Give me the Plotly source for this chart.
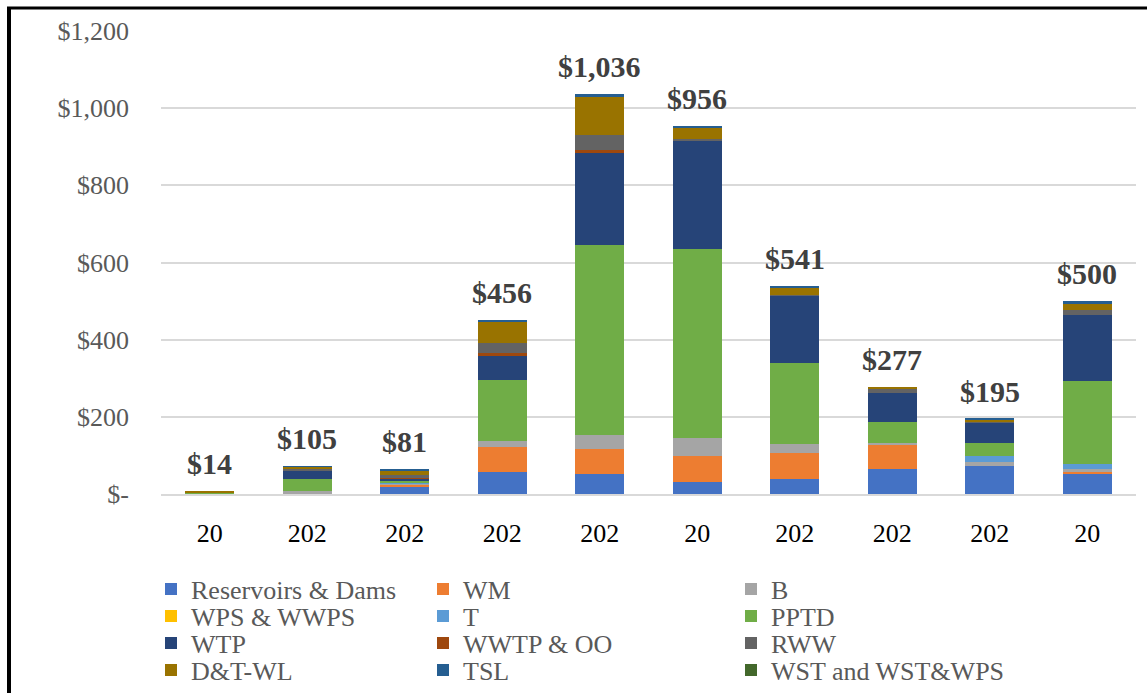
import plotly.graph_objects as go

# ---------------- data ----------------
categories = ["c1", "c2", "c3", "c4", "c5", "c6", "c7", "c8", "c9", "c10"]
tick_labels = ["20", "202", "202", "202", "202", "20", "202", "202", "202", "20"]
total_labels = ["$14", "$105", "$81", "$456", "$1,036", "$956", "$541", "$277", "$195", "$500"]

series_names = ["Reservoirs & Dams", "WM", "B", "WPS & WWPS", "T", "PPTD",
                "WTP", "WWTP & OO", "RWW", "D&T-WL", "TSL", "WST and WST&WPS"]

reservoirs = [1, 2, 18, 56, 51, 32, 40, 66, 73, 53]
wm = [0, 0, 6, 66, 66, 66, 66, 63, 0, 3]
b = [0, 5, 3, 15, 37, 48, 23, 3, 11, 9]
wps = [0, 0, 0, 0, 0, 0, 0, 0, 0, 0]
t = [0, 0, 1, 0, 0, 0, 0, 0, 14, 14]
pptd = [3, 33, 6, 158, 492, 490, 210, 54, 35, 214]
wtp = [1, 22, 6, 62, 239, 279, 175, 75, 52, 171]
wwtp = [0, 0, 1, 9, 7, 2, 0, 0, 0, 0]
rww = [0, 2, 8, 26, 38, 3, 1, 13, 3, 14]
dtwl = [3, 6, 11, 54, 98, 30, 21, 4, 4, 15]
tsl = [0, 2, 5, 6, 9, 3, 3, 0, 3, 6]
wst = [0, 0, 0, 0, 0, 0, 0, 0, 0, 0]

series_values = [reservoirs, wm, b, wps, t, pptd, wtp, wwtp, rww, dtwl, tsl, wst]

y_tick_vals = [0, 200, 400, 600, 800, 1000, 1200]
y_tick_text = ["$-", "$200", "$400", "$600", "$800", "$1,000", "$1,200"]

# ---------------- styling ----------------
colors = ["#4472C4", "#ED7D31", "#A5A5A5", "#FFC000", "#5B9BD5", "#70AD47",
          "#264478", "#9E480E", "#636363", "#997300", "#255E91", "#43682B"]

FONT = "Liberation Serif"
W, H = 1147, 693
ML, MR, MT, MB = 161, 11, 31, 199
PW, PH = W - ML - MR, H - MT - MB


def px_to_paper_x(px):
    return (px - ML) / PW


def px_to_paper_y(py):
    return (H - MB - py) / PH


# legend grid (3 columns x 4 rows, row-major), one legend per entry
col_left_px = [151, 423, 731]
row_center_px = [589, 616, 643, 670]

fig = go.Figure()
legend_layouts = {}
for i, (name, vals, col) in enumerate(zip(series_names, series_values, colors)):
    lid = "legend" if i == 0 else f"legend{i + 1}"
    r, c = divmod(i, 3)
    legend_layouts[lid] = dict(
        x=px_to_paper_x(col_left_px[c]), y=px_to_paper_y(row_center_px[r]),
        xanchor="left", yanchor="middle", orientation="v",
        font=dict(family=FONT, size=26, color="#595959"),
        bgcolor="rgba(0,0,0,0)", itemclick=False, itemdoubleclick=False,
    )
    fig.add_trace(go.Bar(
        x=categories, y=vals, name=name,
        marker=dict(color=col, line=dict(width=0)),
        legend=lid, showlegend=True,
    ))

totals = [sum(v[i] for v in series_values) for i in range(len(categories))]
for cat, tot, lab in zip(categories, totals, total_labels):
    fig.add_annotation(x=cat, y=tot, text=lab, showarrow=False,
                       yanchor="bottom", yshift=9,
                       font=dict(family=FONT, size=30, color="#404040", weight="bold"))

fig.update_layout(
    width=W, height=H,
    showlegend=True,
    margin=dict(l=ML, r=MR, t=MT, b=MB, autoexpand=False),
    paper_bgcolor="white", plot_bgcolor="white",
    barmode="stack", bargap=0.5,
    font=dict(family=FONT),
    xaxis=dict(tickmode="array", tickvals=categories, ticktext=tick_labels,
               tickfont=dict(family=FONT, size=26, color="#000000"),
               ticks="", ticklabelstandoff=15, showgrid=False, automargin=False,
               showline=True, linecolor="#d9d9d9", linewidth=2),
    yaxis=dict(range=[0, 1200], tickmode="array", tickvals=y_tick_vals, ticktext=y_tick_text,
               tickfont=dict(family=FONT, size=26, color="#595959"),
               ticks="", ticklabelstandoff=31, automargin=False,
               showgrid=True, gridcolor="#d9d9d9", gridwidth=2,
               zeroline=False, showline=False),
    **legend_layouts,
)

# outer frame (top and left edges)
fig.add_shape(type="line", xref="paper", yref="paper",
              x0=px_to_paper_x(7), x1=px_to_paper_x(W),
              y0=px_to_paper_y(8), y1=px_to_paper_y(8),
              line=dict(color="black", width=3))
fig.add_shape(type="line", xref="paper", yref="paper",
              x0=px_to_paper_x(9), x1=px_to_paper_x(9),
              y0=px_to_paper_y(7), y1=px_to_paper_y(H),
              line=dict(color="black", width=4))

fig.write_html("out.html", config={"displayModeBar": False},
               post_script="document.body.style.margin='0';document.body.style.overflow='hidden';")
